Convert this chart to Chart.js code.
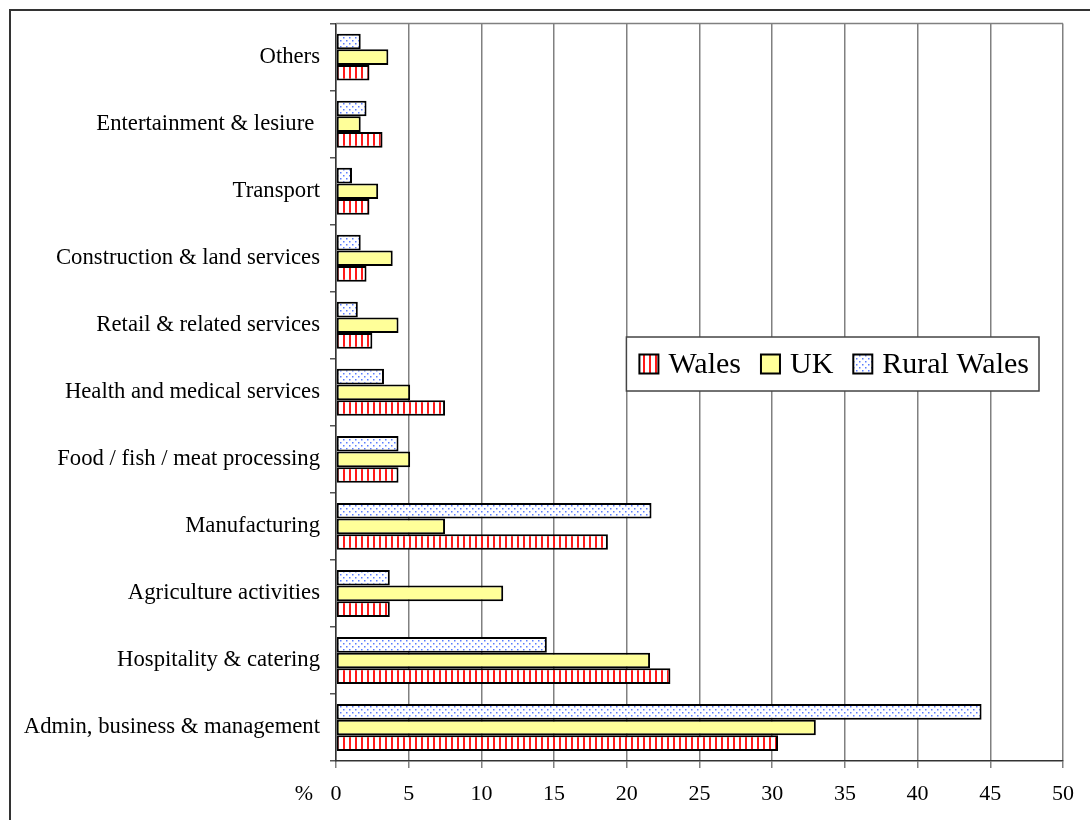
<!DOCTYPE html>
<html>
<head>
<meta charset="utf-8">
<title>Employment by sector</title>
<script src="https://cdn.jsdelivr.net/npm/chart.js@4.4.1/dist/chart.umd.min.js"></script>
<style>
  html, body { margin: 0; padding: 0; background: #fff; }
</style>
</head>
<body>
<canvas id="chart" width="1090" height="820"></canvas>
<script>
// categories listed top to bottom as they appear on the chart
const categories = [
  'Others',
  'Entertainment & lesiure ',
  'Transport',
  'Construction & land services',
  'Retail & related services',
  'Health and medical services',
  'Food / fish / meat processing',
  'Manufacturing',
  'Agriculture activities',
  'Hospitality & catering',
  'Admin, business & management'
];

const walesValues = [2.3, 3.2, 2.3, 2.1, 2.5, 7.5, 4.3, 18.7, 3.7, 23.0, 30.4];
const ukValues = [3.6, 1.7, 2.9, 3.9, 4.3, 5.1, 5.1, 7.5, 11.5, 21.6, 33.0];
const ruralWalesValues = [1.7, 2.1, 1.1, 1.7, 1.5, 3.3, 4.3, 21.7, 3.7, 14.5, 44.4];

const xMin = 0;
const xMax = 50;
const xStep = 5;
const xUnitLabel = '%';

const FONT = '"Liberation Serif", "Times New Roman", serif';

// fill patterns like the old spreadsheet chart
function stripePattern() {
  const c = document.createElement('canvas');
  c.width = 6; c.height = 4;
  const g = c.getContext('2d');
  g.fillStyle = '#ffffff';
  g.fillRect(0, 0, 6, 4);
  g.fillStyle = '#ff1a1a';
  g.fillRect(1, 0, 2, 4);
  return g.createPattern(c, 'repeat');
}

function dotPattern() {
  const c = document.createElement('canvas');
  c.width = 6; c.height = 6;
  const g = c.getContext('2d');
  g.fillStyle = '#ffffff';
  g.fillRect(0, 0, 6, 6);
  g.fillStyle = '#5a7dff';
  g.fillRect(1, 1, 1.5, 1.5);
  g.fillRect(4, 4, 1.5, 1.5);
  return g.createPattern(c, 'repeat');
}

const ctx = document.getElementById('chart').getContext('2d');

// legend drawn inside the plot, in Wales / UK / Rural Wales order
const boxLegend = {
  id: 'boxLegend',
  afterDraw(chart) {
    const { ctx, chartArea } = chart;
    const items = chart.data.datasets.slice().reverse();
    ctx.save();
    ctx.font = '30px ' + FONT;
    const sw = 19, gapSw = 10, gapItem = 20, padL = 13, padR = 10, h = 54;
    let total = padL + padR;
    items.forEach((d, i) => {
      total += sw + gapSw + ctx.measureText(d.label).width;
      if (i < items.length - 1) total += gapItem;
    });
    const right = chartArea.right - 24;
    const left = right - total;
    const top = chartArea.top + (chartArea.bottom - chartArea.top) * 0.425;
    ctx.fillStyle = '#ffffff';
    ctx.fillRect(left, top, total, h);
    ctx.strokeStyle = '#444';
    ctx.lineWidth = 1.5;
    ctx.strokeRect(left, top, total, h);
    let x = left + padL;
    const cy = top + h / 2;
    items.forEach(d => {
      ctx.fillStyle = d.backgroundColor;
      ctx.fillRect(x, cy - sw / 2, sw, sw);
      ctx.strokeStyle = '#000';
      ctx.lineWidth = 2;
      ctx.strokeRect(x, cy - sw / 2, sw, sw);
      x += sw + gapSw;
      ctx.fillStyle = '#000';
      ctx.textBaseline = 'middle';
      ctx.textAlign = 'left';
      ctx.fillText(d.label, x, cy + 1);
      x += ctx.measureText(d.label).width + gapItem;
    });
    ctx.restore();
  }
};

// outer frame, top edge of plot and the "%" unit label
const decorations = {
  id: 'decorations',
  beforeDraw(chart) {
    const { ctx } = chart;
    ctx.save();
    ctx.fillStyle = '#fff';
    ctx.fillRect(0, 0, chart.width, chart.height);
    ctx.restore();
  },
  afterDatasetsDraw(chart) {
    const { ctx, chartArea, scales } = chart;
    ctx.save();
    ctx.strokeStyle = '#808080';
    ctx.lineWidth = 1.5;
    ctx.beginPath();
    ctx.moveTo(chartArea.left, chartArea.top);
    ctx.lineTo(chartArea.right, chartArea.top);
    ctx.stroke();

    ctx.strokeStyle = '#333';
    ctx.lineWidth = 2;
    ctx.strokeRect(10, 10, chart.width + 20, chart.height + 20);

    ctx.fillStyle = '#000';
    ctx.font = '22px ' + FONT;
    ctx.textAlign = 'center';
    ctx.textBaseline = 'middle';
    ctx.fillText(xUnitLabel, scales.x.getPixelForValue(xMin) - 32, scales.x.top + 33);
    ctx.restore();
  }
};

const barStyle = { borderColor: '#000', borderWidth: 2, borderSkipped: false };

new Chart(ctx, {
  type: 'bar',
  data: {
    labels: categories,
    datasets: [
      { label: 'Rural Wales', data: ruralWalesValues, backgroundColor: dotPattern(), ...barStyle },
      { label: 'UK', data: ukValues, backgroundColor: '#ffff99', ...barStyle },
      { label: 'Wales', data: walesValues, backgroundColor: stripePattern(), ...barStyle }
    ]
  },
  options: {
    indexAxis: 'y',
    responsive: false,
    animation: false,
    events: [],
    layout: { padding: { left: 10, top: 22, right: 27, bottom: 0 } },
    datasets: { bar: { categoryPercentage: 0.7, barPercentage: 1.0 } },
    plugins: {
      legend: { display: false },
      tooltip: { enabled: false }
    },
    scales: {
      x: {
        min: xMin,
        max: xMax,
        ticks: {
          stepSize: xStep,
          color: '#000',
          padding: 13,
          font: { family: FONT, size: 22 }
        },
        grid: { color: '#808080', lineWidth: 1.5, tickLength: 7 },
        border: { color: '#333', width: 1.5 },
        afterFit(scale) { scale.height = 59; }
      },
      y: {
        ticks: {
          color: '#000',
          padding: 10,
          font: { family: FONT, size: 22.7 }
        },
        grid: { drawOnChartArea: false, color: '#555', tickLength: 6, lineWidth: 1.5 },
        border: { color: '#333', width: 1.5 },
        afterFit(scale) { scale.width = 326; }
      }
    }
  },
  plugins: [decorations, boxLegend]
});
</script>
</body>
</html>
